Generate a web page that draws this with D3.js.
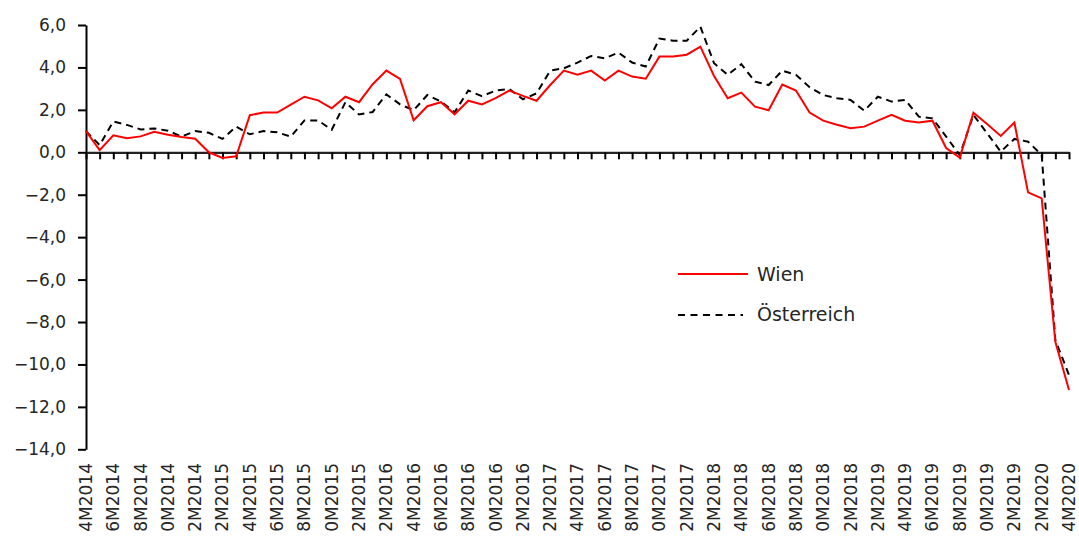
<!DOCTYPE html>
<html>
<head>
<meta charset="utf-8">
<script src="https://cdn.jsdelivr.net/npm/d3@7"></script>
<style>
  body { margin: 0; background: #fff; }
  svg { display: block; font-family: "DejaVu Sans", sans-serif; }
</style>
</head>
<body>
<svg id="chart" width="1079" height="536"></svg>
<script>
// months 2014M04 .. 2020M04
var startYear = 2014, startMonth = 4, monthCount = 73;
var months = [];
for (var i = 0; i < monthCount; i++) {
    var m = (startMonth - 1 + i) % 12 + 1;
    var yr = startYear + Math.floor((startMonth - 1 + i) / 12);
    months.push({ month: m, year: yr });
}
// label shown on the axis, every second month
var tickLabels = months.map(function(d) { return (d.month % 10) + "M" + d.year; });

var wien = [
    1.0, 0.1, 0.8, 0.66, 0.75, 0.97, 0.83, 0.72, 0.64, 0.0, -0.27, -0.19,
    1.75, 1.87, 1.87, 2.25, 2.62, 2.45, 2.07, 2.62, 2.36, 3.21, 3.85, 3.46,
    1.51, 2.17, 2.36, 1.79, 2.43, 2.26, 2.55, 2.91, 2.66, 2.43, 3.17, 3.85,
    3.66, 3.85, 3.38, 3.85, 3.57, 3.47, 4.51, 4.51, 4.6, 4.98, 3.6, 2.55,
    2.81, 2.15, 1.98, 3.19, 2.91, 1.87, 1.49, 1.3, 1.13, 1.21, 1.49, 1.77,
    1.49, 1.4, 1.49, 0.2, -0.25, 1.87, 1.33, 0.77, 1.4, -1.89, -2.17, -8.93,
    -11.2
];
var oesterreich = [
    1.0, 0.34, 1.45, 1.29, 1.08, 1.12, 1.02, 0.74, 1.0, 0.92, 0.63, 1.21,
    0.85, 1.0, 0.94, 0.74, 1.5, 1.5, 1.06, 2.36, 1.78, 1.9, 2.73, 2.26,
    1.98, 2.7, 2.39, 1.89, 2.91, 2.64, 2.91, 2.99, 2.5, 2.78, 3.85, 3.96,
    4.23, 4.54, 4.43, 4.7, 4.23, 4.04, 5.36, 5.26, 5.26, 5.92, 4.2, 3.65,
    4.15, 3.33, 3.17, 3.85, 3.65, 3.07, 2.7, 2.55, 2.47, 1.96, 2.62, 2.39,
    2.47, 1.68, 1.6, 0.74, -0.13, 1.76, 0.9, 0.03, 0.63, 0.5, -0.13, -8.85,
    -10.5
];
var yTicks = [-14, -12, -10, -8, -6, -4, -2, 0, 2, 4, 6];
var seriesNames = ["Wien", "Österreich"];

var svg = d3.select("#chart");

var x = d3.scalePoint()
    .domain(d3.range(monthCount))
    .range([86, 1069]);

var y = d3.scaleLinear()
    .domain([-14, 6])
    .range([449.3, 25]);

var fmt = function(d) { return d.toFixed(1).replace(".", ",").replace("-", "\u2212"); };

// y axis
var yAxis = svg.append("g")
    .attr("transform", "translate(86,0)")
    .call(d3.axisLeft(y).tickValues(yTicks).tickFormat(fmt)
        .tickSize(8).tickSizeOuter(0).tickPadding(12));
yAxis.select(".domain").attr("stroke", "#000").attr("stroke-width", 2);
yAxis.selectAll(".tick line").attr("stroke", "#000").attr("stroke-width", 2);
yAxis.selectAll(".tick text")
    .attr("font-size", 17)
    .attr("font-family", "DejaVu Sans")
    .attr("fill", "#262626");

// x axis on the zero line, tick each month
var xAxis = svg.append("g")
    .attr("transform", "translate(0," + y(0) + ")")
    .call(d3.axisBottom(x).tickSize(7).tickSizeOuter(0).tickFormat(""));
xAxis.select(".domain").attr("stroke", "#222").attr("stroke-width", 2.2);
xAxis.selectAll(".tick line").attr("stroke", "#000").attr("stroke-width", 2);

// x labels at the bottom
var labelAxis = svg.append("g")
    .attr("transform", "translate(0,463)")
    .call(d3.axisBottom(x)
        .tickValues(d3.range(0, monthCount, 2))
        .tickSize(0)
        .tickFormat(function(i) { return tickLabels[i]; }));
labelAxis.select(".domain").remove();
labelAxis.selectAll(".tick text")
    .attr("transform", "rotate(-90)")
    .attr("text-anchor", "end")
    .attr("x", 0)
    .attr("y", 0)
    .attr("dy", "0.32em")
    .attr("font-size", 17)
    .attr("font-family", "DejaVu Sans")
    .attr("fill", "#262626");

// lines
var line = d3.line()
    .x(function(d, i) { return x(i); })
    .y(function(d) { return y(d); });

svg.append("path")
    .datum(oesterreich)
    .attr("fill", "none")
    .attr("stroke", "#000")
    .attr("stroke-width", 2)
    .attr("stroke-dasharray", "7,5")
    .attr("d", line);

svg.append("path")
    .datum(wien)
    .attr("fill", "none")
    .attr("stroke", "#ff0000")
    .attr("stroke-width", 2)
    .attr("d", line);

// legend
var legend = svg.append("g");
legend.append("line")
    .attr("x1", 678).attr("x2", 748).attr("y1", 274).attr("y2", 274)
    .attr("stroke", "#ff0000").attr("stroke-width", 2);
legend.append("text")
    .attr("x", 757).attr("y", 281)
    .attr("font-size", 19)
    .attr("fill", "#262626")
    .text(seriesNames[0]);
legend.append("line")
    .attr("x1", 678).attr("x2", 743).attr("y1", 315).attr("y2", 315)
    .attr("stroke", "#000").attr("stroke-width", 2)
    .attr("stroke-dasharray", "7,5.5");
legend.append("text")
    .attr("x", 757).attr("y", 321)
    .attr("font-size", 19)
    .attr("fill", "#262626")
    .text(seriesNames[1]);
</script>
</body>
</html>
